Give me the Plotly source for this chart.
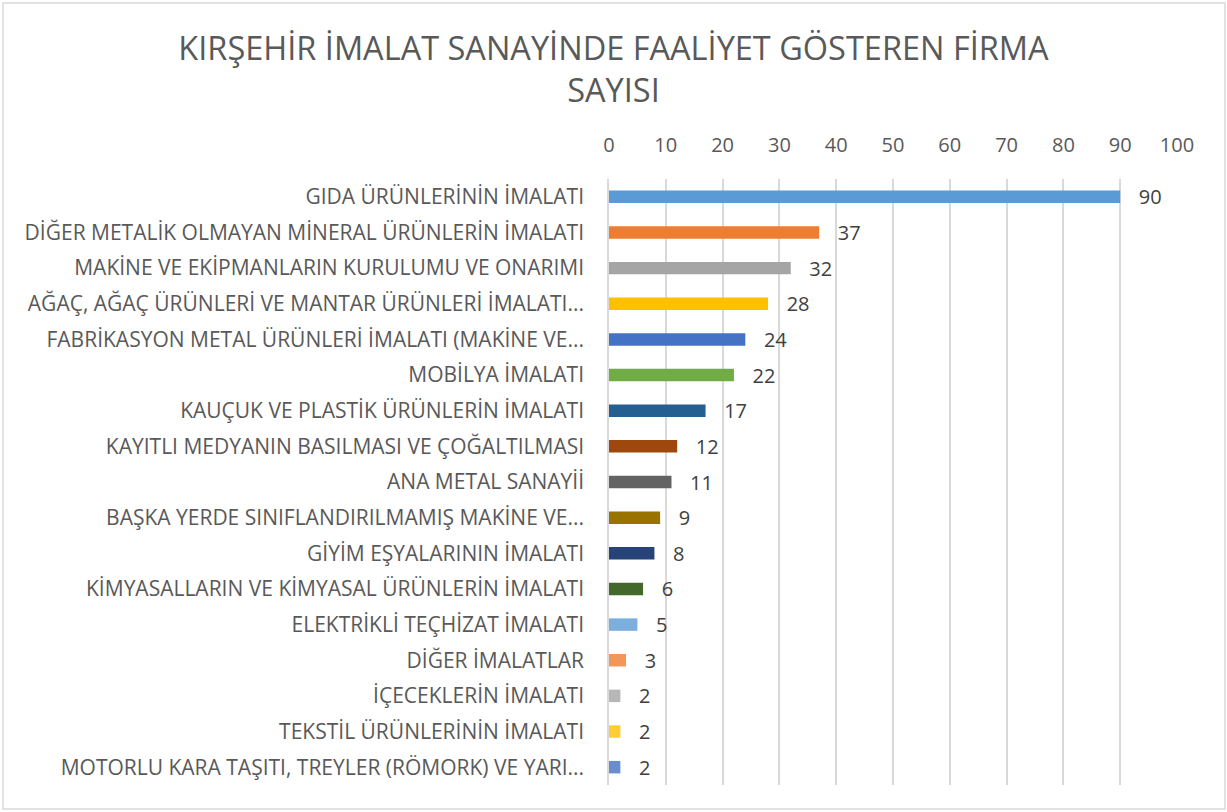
import plotly.graph_objects as go

categories = [
    "GIDA ÜRÜNLERİNİN İMALATI",
    "DİĞER METALİK OLMAYAN MİNERAL ÜRÜNLERİN İMALATI",
    "MAKİNE VE EKİPMANLARIN KURULUMU VE ONARIMI",
    "AĞAÇ, AĞAÇ ÜRÜNLERİ VE MANTAR ÜRÜNLERİ İMALATI...",
    "FABRİKASYON METAL ÜRÜNLERİ İMALATI (MAKİNE VE...",
    "MOBİLYA İMALATI",
    "KAUÇUK VE PLASTİK ÜRÜNLERİN İMALATI",
    "KAYITLI MEDYANIN BASILMASI VE ÇOĞALTILMASI",
    "ANA METAL SANAYİİ",
    "BAŞKA YERDE SINIFLANDIRILMAMIŞ MAKİNE VE...",
    "GİYİM EŞYALARININ İMALATI",
    "KİMYASALLARIN VE KİMYASAL ÜRÜNLERİN İMALATI",
    "ELEKTRİKLİ TEÇHİZAT İMALATI",
    "DİĞER İMALATLAR",
    "İÇECEKLERİN İMALATI",
    "TEKSTİL ÜRÜNLERİNİN İMALATI",
    "MOTORLU KARA TAŞITI, TREYLER (RÖMORK) VE YARI...",
]
values = [90, 37, 32, 28, 24, 22, 17, 12, 11, 9, 8, 6, 5, 3, 2, 2, 2]
colors = [
    "#5B9BD5", "#ED7D31", "#A5A5A5", "#FFC000", "#4472C4", "#70AD47",
    "#255E91", "#9E480E", "#636363", "#997300", "#264478", "#43682B",
    "#7CAFDD", "#F1975A", "#B7B7B7", "#FFCD33", "#698ED0",
]
x_ticks = list(range(0, 101, 10))

FONT = "Open Sans"
NB = "\u00a0"

fig = go.Figure(go.Bar(
    y=categories,
    x=values,
    orientation="h",
    marker=dict(color=colors, line=dict(width=0)),
    width=0.35,
    text=[NB * 3 + str(v) for v in values],
    textposition="outside",
    constraintext="none",
    textfont=dict(family=FONT, size=20, color="#404040"),
    cliponaxis=False,
))

L, R, T, B = 609, 1227 - 1177, 179, 812 - 785
fig.update_layout(
    width=1227, height=812,
    margin=dict(l=L, r=R, t=T, b=B),
    paper_bgcolor="white", plot_bgcolor="white",
    showlegend=False,
    title=dict(
        text="KIRŞEHİR İMALAT SANAYİNDE FAALİYET GÖSTEREN FİRMA<br>SAYISI",
        x=0.5, xanchor="center", xref="container",
        y=1 - 60 / 812, yanchor="middle", yref="container",
        font=dict(family=FONT, size=32.5, color="#595959"),
    ),
    font=dict(family=FONT, color="#595959"),
    xaxis=dict(
        side="top", range=[0, 100], tickvals=x_ticks,
        showgrid=True, gridcolor="#D9D9D9", gridwidth=1.5,
        zeroline=False, showline=False, ticks="",
        tickfont=dict(family=FONT, size=20, color="#595959"),
        ticklabelstandoff=22,
    ),
    yaxis=dict(
        autorange="reversed", showgrid=False, showline=True,
        linecolor="#D9D9D9", linewidth=1.5, ticks="",
        tickfont=dict(family=FONT, size=21, color="#595959"),
        ticklabelstandoff=19,
    ),
)

# chart-area border
pw, ph = 1227 - L - R, 812 - T - B
fig.add_shape(
    type="rect", xref="paper", yref="paper",
    x0=(3 - L) / pw, x1=(1225 - L) / pw,
    y0=-(809 - (812 - B)) / ph, y1=1 + (T - 3) / ph,
    line=dict(color="#D9D9D9", width=1.5), fillcolor="rgba(0,0,0,0)",
    layer="below",
)

fig.write_html(
    "out.html",
    config={"displayModeBar": False},
    post_script="document.body.style.margin='0';",
)
